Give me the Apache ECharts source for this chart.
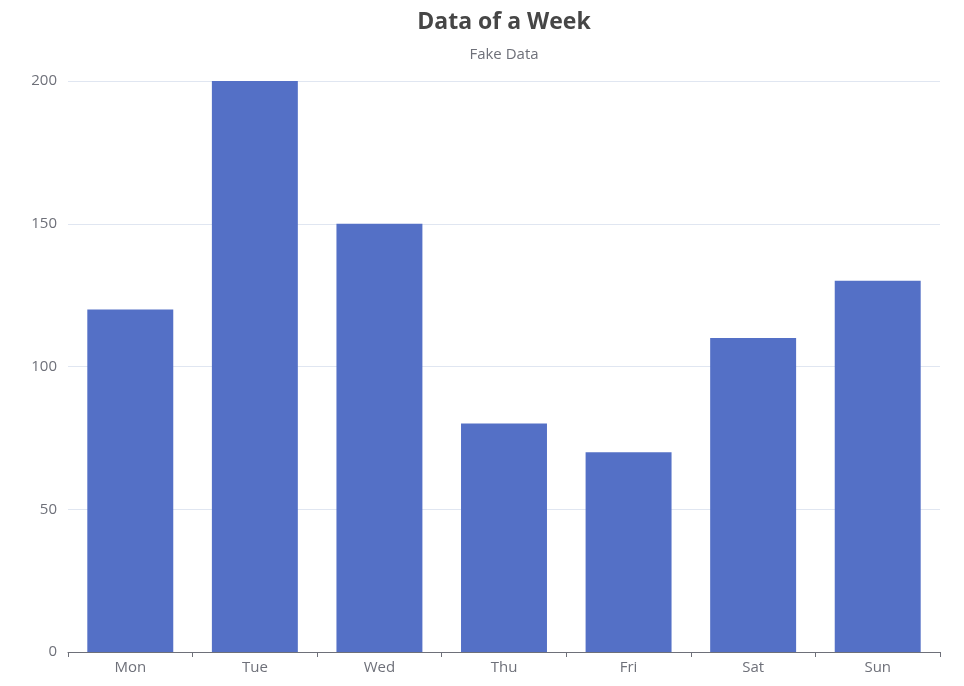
<!DOCTYPE html>
<html>
<head>
<meta charset="utf-8">
<script src="https://cdn.jsdelivr.net/npm/echarts@6/dist/echarts.min.js"></script>
<style>
  html, body { margin: 0; padding: 0; background: #fff; }
  #main { width: 964px; height: 686px; }
</style>
</head>
<body>
<div id="main"></div>
<script>
// data
const days = ['Mon', 'Tue', 'Wed', 'Thu', 'Fri', 'Sat', 'Sun']
const values = [120, 200, 150, 80, 70, 110, 130]

const chart = echarts.init(document.getElementById('main'))
chart.setOption({
  textStyle: { fontFamily: 'Open Sans' },
  title: {
    text: 'Data of a Week',
    subtext: 'Fake Data',
    left: 499,
    textAlign: 'center',
    top: 6,
    itemGap: 13,
    textStyle: { fontSize: 23, fontWeight: 'bold', color: '#464646' },
    subtextStyle: { fontSize: 15, color: '#6e7079' }
  },
  grid: { left: 68, right: 24, top: 81, bottom: 34, containLabel: false },
  xAxis: {
    type: 'category',
    data: days,
    axisLine: { lineStyle: { color: '#6e7079' } },
    axisTick: { show: true, length: 5, lineStyle: { color: '#6e7079' } },
    axisLabel: { fontSize: 15, color: '#6e7079', margin: 8 }
  },
  yAxis: {
    type: 'value',
    min: 0,
    max: 200,
    interval: 50,
    axisLabel: { fontSize: 15, color: '#6e7079', margin: 11 },
    splitLine: { lineStyle: { color: '#e0e6f1' } }
  },
  series: [{
    type: 'bar',
    data: values,
    barCategoryGap: '31%',
    itemStyle: { color: '#5470c6' }
  }]
})
</script>
</body>
</html>
